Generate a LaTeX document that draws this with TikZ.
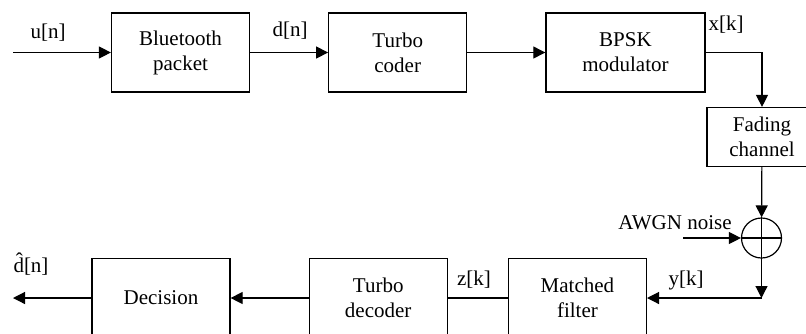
\documentclass[tikz,border=0pt]{standalone}
\usepackage{fontspec}
\setmainfont{Liberation Serif}
\usetikzlibrary{positioning,arrows.meta}

\begin{document}
\begin{tikzpicture}[x=0.5pt,y=-0.5pt,line width=0.6pt,>={Triangle[length=6pt,width=6pt]},node distance=39pt,every node/.style={font=\fontsize{10.5}{12.5}\selectfont},block/.style={draw,align=center,minimum width=69pt,minimum height=39.5pt,inner sep=0pt},sig/.style={inner sep=0pt}]
\useasboundingbox (0,0) rectangle (806,333);
\clip (0,0) rectangle (806,333);
\node[block] (bt) at (180.5,52.5) {Bluetooth\\packet};
\node[block,right=of bt] (tc) {Turbo\\coder};
\node[block,right=of tc,minimum width=79.5pt] (bpsk) {BPSK\\modulator};
\node[block,minimum width=55pt,minimum height=29.5pt] (fade) at (762,137) {Fading\\channel};
\node[draw,circle,minimum size=20pt,inner sep=0pt] (sum) at (761.5,238) {};
\draw (sum.north) -- (sum.south) (sum.west) -- (sum.east);
\node[block] (dec) at (161,298) {Decision};
\node[block,right=of dec] (td) {Turbo\\decoder};
\node[block,right=30pt of td] (mf) {Matched\\filter};
\node[sig] (un) at (48,33) {u[n]};
\node[sig] (dn) at (290,31) {d[n]};
\node[sig] (xk) at (726,25) {x[k]};
\node[sig] (noise) at (675,223) {AWGN noise};
\node[sig] (yk) at (686,280) {y[k]};
\node[sig] (zk) at (474,280) {z[k]};
\node[sig] (dhat) at (31,264) {\^{d}[n]};
\coordinate (src) at (13,52.5);
\coordinate (snk) at (13,298);
\coordinate (nz) at (683,238);
\coordinate (bend) at (sum |- mf);
\draw[->] (src) -- (bt);
\draw[->] (bt) -- (tc);
\draw[->] (tc) -- (bpsk);
\draw[->] (bpsk) -| (fade);
\draw[->] (fade) -- (sum);
\draw[->] (nz) -- (sum);
\draw[->] (sum) -- (bend);
\draw[->] (bend) -- (mf);
\draw (mf) -- (td);
\draw[->] (td) -- (dec);
\draw[->] (dec) -- (snk);
\end{tikzpicture}
\end{document}
